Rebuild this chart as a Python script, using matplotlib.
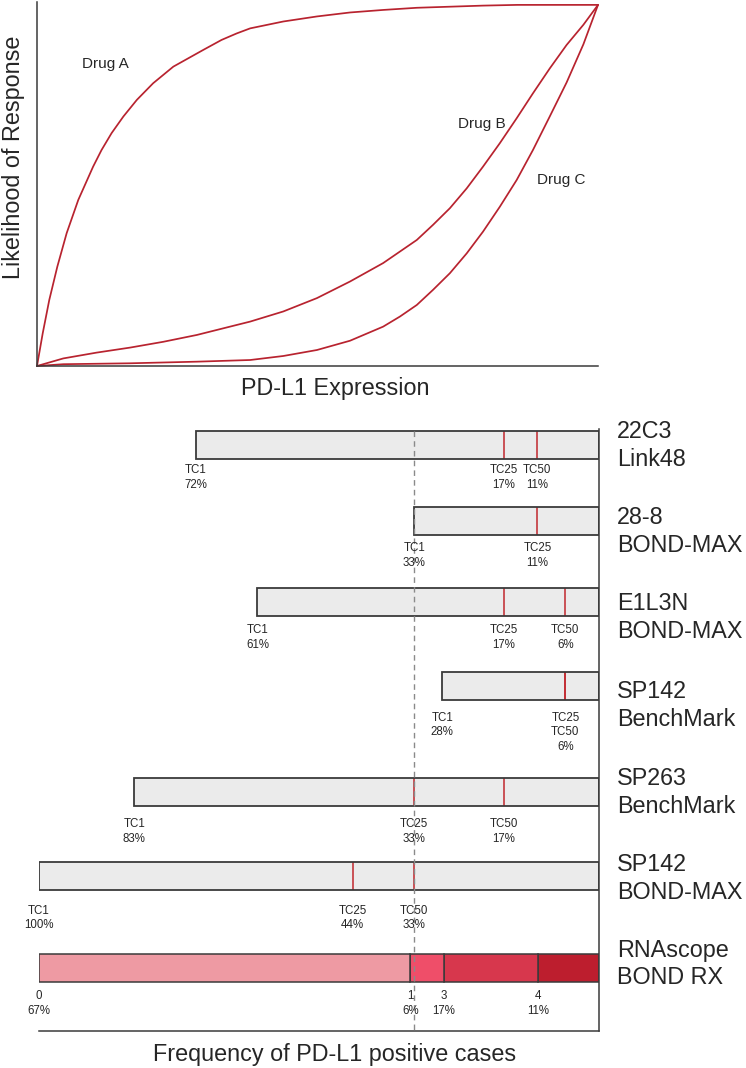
import matplotlib

matplotlib.use("Agg")
import matplotlib.pyplot as plt

# Figure size in pixels (dpi 100)
W, H = 746, 1068
DPI = 100

plt.rcParams["font.family"] = ["Liberation Sans", "DejaVu Sans"]

# --- top panel: likelihood of response vs PD-L1 expression (both 0-100)
DRUG_A_X = [0, 1.02, 2.19, 3.62, 5.29, 7.36, 10.0, 11.5, 13.3, 15.4, 17.8, 20.7, 24.3, 29.6,
            32.9, 35.6, 38.0, 43.9, 49.9, 55.8, 61.7, 67.7, 73.6, 79.5, 85.6, 100]
DRUG_A_Y = [0, 9.06, 18.3, 27.5, 36.8, 46.0, 55.2, 59.8, 64.5, 69.1, 73.7, 78.3, 82.9, 87.5,
            90.3, 92.1, 93.5, 95.4, 96.8, 97.9, 98.6, 99.2, 99.5, 99.8, 100, 100]
DRUG_B_X = [0, 4.69, 10.6, 16.6, 22.5, 28.5, 34.4, 38.0, 43.9, 49.9, 55.8, 61.7, 67.7, 70.6,
            73.6, 76.6, 79.5, 82.5, 85.5, 88.4, 91.4, 94.4, 97.4, 100]
DRUG_B_Y = [0, 2.1, 3.7, 5.1, 6.7, 8.6, 10.9, 12.3, 15.1, 18.8, 23.4, 28.5, 34.9, 39.1,
            43.7, 49.2, 55.2, 61.7, 68.6, 75.5, 82.4, 88.9, 94.5, 100]
DRUG_C_X = [0, 4.69, 16.6, 28.5, 38.0, 43.9, 49.9, 55.8, 61.7, 64.7, 67.7, 70.6, 73.6, 76.6,
            79.5, 82.5, 85.5, 88.4, 91.4, 94.4, 97.4, 100]
DRUG_C_Y = [0, 0.5, 0.75, 1.2, 1.66, 2.77, 4.43, 7.0, 10.9, 13.7, 16.9, 21.1, 25.7, 31.2,
            37.2, 44.1, 51.5, 59.8, 69.1, 78.5, 89.1, 100]

# --- bottom panel: frequency of PD-L1 positive cases (%) per assay / cutoff
ASSAYS = [
    ("22C3", "Link48"),
    ("28-8", "BOND-MAX"),
    ("E1L3N", "BOND-MAX"),
    ("SP142", "BenchMark"),
    ("SP263", "BenchMark"),
    ("SP142", "BOND-MAX"),
    ("RNAscope", "BOND RX"),
]
TC1 = [72, 33, 61, 28, 83, 100]
TC25 = [17, 11, 17, 6, 33, 44]
TC50 = [11, None, 6, 6, 17, 33]
RNA_SCORES = ["0", "1", "3", "4"]
RNA_PCT = [67, 6, 17, 11]
CUTOFF_REF = 33

# layout (pixel rows, from top of the image)
ROW_Y = [445, 521, 602, 686.5, 792, 876, 967.5]
LABEL_Y = [445, 531, 617, 705, 791.5, 877.5, 963]
NOTE_Y = [469, 547, 629, 716.5, 823, 909.5, 995]
BAR_H = 28

CURVE_RED = "#B8232F"
MARK_RED = "#C1272D"
GREY_FILL = "#EBEBEB"
EDGE = "#3A3A3A"
TEXT = "#262626"
RNA_COLORS = ["#EE9AA3", "#EF4E69", "#D7374D", "#BD1E2E"]


def fx(x):
    return x / W


def fy(y):
    return 1 - y / H


fig = plt.figure(figsize=(W / DPI, H / DPI), dpi=DPI)

# ---------------- top panel
ax1 = fig.add_axes([fx(37), fy(366), (598 - 37) / W, (366 - 2) / H])
for xs, ys in [(DRUG_A_X, DRUG_A_Y), (DRUG_B_X, DRUG_B_Y), (DRUG_C_X, DRUG_C_Y)]:
    ax1.plot(xs, ys, color=CURVE_RED, lw=1.25, clip_on=False,
             solid_joinstyle="round", solid_capstyle="round")
ax1.set_xlim(0, 100)
ax1.set_ylim(0, 100.8)
for side in ["top", "right"]:
    ax1.spines[side].set_visible(False)
for side in ["left", "bottom"]:
    ax1.spines[side].set_color(EDGE)
    ax1.spines[side].set_linewidth(1.1)
ax1.set_xticks([])
ax1.set_yticks([])

ax1.text(8.0, 82.5, "Drug A", fontsize=11, color=TEXT, va="baseline")
ax1.text(75.0, 65.9, "Drug B", fontsize=11, color=TEXT, va="baseline")
ax1.text(89.1, 50.4, "Drug C", fontsize=11, color=TEXT, va="baseline")

fig.text(fx(335), fy(395), "PD-L1 Expression", fontsize=16.8, color=TEXT, ha="center", va="baseline")
fig.text(fx(14), fy(157), "Likelihood of Response", fontsize=16.8, color=TEXT,
         rotation=90, ha="center", va="center")

# ---------------- bottom panel
ax2 = fig.add_axes([fx(39), fy(1031), 560 / W, (1031 - 429) / H])
ax2.set_xlim(100, 0)
ax2.set_ylim(1031, 429)
for side in ["top", "left"]:
    ax2.spines[side].set_visible(False)
for side in ["right", "bottom"]:
    ax2.spines[side].set_color(EDGE)
    ax2.spines[side].set_linewidth(1.1)
ax2.set_xticks([])
ax2.set_yticks([])

n_ihc = len(TC1)
ax2.barh(ROW_Y[:n_ihc], TC1, height=BAR_H, left=0, color=GREY_FILL, edgecolor="none", zorder=2)

# cutoff marks inside the bars
for i in range(n_ihc):
    for val in (TC25[i], TC50[i]):
        if val is not None:
            ax2.vlines(val, ROW_Y[i] - BAR_H / 2, ROW_Y[i] + BAR_H / 2, colors=MARK_RED, lw=1.1, zorder=3)

ax2.barh(ROW_Y[:n_ihc], TC1, height=BAR_H, left=0, facecolor="none", edgecolor=EDGE, lw=1.3, zorder=4)

# RNAscope stacked bar, scores drawn right-to-left
scale = 100 / sum(RNA_PCT)
rna_edges = []
start = 0
for score, pct, col in reversed(list(zip(RNA_SCORES, RNA_PCT, RNA_COLORS))):
    ax2.barh(ROW_Y[-1], pct * scale, height=BAR_H, left=start, color=col, edgecolor=EDGE, lw=1.1, zorder=2)
    start += pct * scale
    rna_edges.append((start, [score, f"{pct}%"]))

ax2.vlines(CUTOFF_REF, 431, 1031, colors="#8A8A8A", linestyles=(0, (4, 3)), lw=1.0, zorder=5)


def note(x, row, lines):
    for k, s in enumerate(lines):
        ax2.text(x, NOTE_Y[row] + 4.2 + k * 14.5, s, fontsize=8.3, color=TEXT,
                 ha="center", va="baseline", zorder=6)


for i in range(n_ihc):
    groups = {}
    for name, val in (("TC1", TC1[i]), ("TC25", TC25[i]), ("TC50", TC50[i])):
        if val is not None:
            groups.setdefault(val, []).append(name)
    for val, names in groups.items():
        note(val, i, names + [f"{val}%"])

for x, lines in rna_edges:
    note(x, n_ihc, lines)

lab_tr = ax2.get_yaxis_transform()
for i, (l1, l2) in enumerate(ASSAYS):
    ax2.text(1.032, LABEL_Y[i] - 6.5, l1, transform=lab_tr, fontsize=16.8, color=TEXT, va="baseline")
    ax2.text(1.032, LABEL_Y[i] + 21.5, l2, transform=lab_tr, fontsize=16.8, color=TEXT, va="baseline")

fig.text(fx(335), fy(1061), "Frequency of PD-L1 positive cases", fontsize=16.8, color=TEXT,
         ha="center", va="baseline")

fig.savefig("out.png", dpi=DPI)
